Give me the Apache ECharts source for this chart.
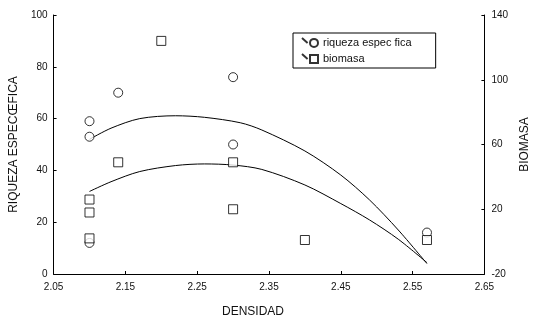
<!DOCTYPE html>
<html>
<head>
<meta charset="utf-8">
<script src="https://cdn.jsdelivr.net/npm/echarts@6/dist/echarts.min.js"></script>
<style>
    html, body { margin: 0; padding: 0; background: #fff; }
    #chartBox { width: 539px; height: 333px; }
</style>
</head>
<body>
<div id="chartBox"></div>
<script>
//riqueza especifica (eje izquierdo)
var riquezaX = [2.10, 2.10, 2.14, 2.30, 2.30, 2.10, 2.57];
var riquezaY = [59, 53, 70, 76, 50, 12, 16];
//biomasa (eje derecho)
var biomasaX = [2.20, 2.14, 2.10, 2.10, 2.10, 2.30, 2.30, 2.40, 2.57];
var biomasaY = [124, 49, 26, 18, 2, 49, 20, 1, 1];
//curvas ajustadas
var curvaRiqX = [2.10, 2.13, 2.17, 2.22, 2.26, 2.31, 2.34, 2.40, 2.45, 2.49, 2.53, 2.57];
var curvaRiqY = [52, 56.3, 60, 61.1, 60.5, 58.4, 55.6, 47.5, 38.2, 28.6, 17, 4];
var curvaBioX = [2.10, 2.13, 2.17, 2.22, 2.26, 2.30, 2.34, 2.40, 2.45, 2.49, 2.53, 2.57];
var curvaBioY = [31, 37, 43.3, 47, 48, 47.3, 44.6, 35, 23.5, 13.4, 1.5, -13];
//etiquetas del eje derecho
var yRightTicks = [-20, 20, 60, 100, 140];

var fontFam = 'Liberation Sans, Arial, sans-serif';

function toPairs(xs, ys) {
    var out = [];
    for (var i = 0; i < xs.length; i++) {
        out.push([xs[i], ys[i]]);
    }
    return out;
}

var myChart = echarts.init(document.getElementById('chartBox'));

var option = {
    backgroundColor: '#fff',
    animation: false,
    textStyle: { fontFamily: fontFam, color: '#111' },
    legend: {
        orient: 'vertical',
        left: 293,
        top: 33,
        padding: [4, 24, 4, 8],
        itemGap: 5,
        itemWidth: 16,
        itemHeight: 10,
        borderColor: '#000',
        borderWidth: 1,
        data: [
            { name: 'riqueza espec fica', icon: 'path://M0,1 L7,7 M15,2 A5,5 0 1 1 15,12 A5,5 0 1 1 15,2 Z' },
            { name: 'biomasa', icon: 'path://M0,1 L7,7 M10,2 L20,2 L20,12 L10,12 Z' }
        ],
        textStyle: { fontSize: 11, color: '#111', fontFamily: fontFam }
    },
    grid: {
        left: 46,
        right: 52,
        top: 15,
        bottom: 59
    },
    xAxis: {
        type: 'value',
        min: 2.05,
        max: 2.65,
        interval: 0.1,
        name: 'DENSIDAD',
        nameLocation: 'middle',
        nameGap: 32,
        nameTextStyle: { fontSize: 12, color: '#111', padding: [0, 32, 0, 0] },
        axisLine: { lineStyle: { color: '#000', width: 1 } },
        axisTick: { inside: true, length: 3, lineStyle: { color: '#000' } },
        axisLabel: {
            fontSize: 10,
            color: '#111',
            margin: 8,
            formatter: function (v) { return v.toFixed(2); }
        },
        splitLine: { show: false }
    },
    yAxis: [
        {
            type: 'value',
            min: 0,
            max: 100,
            interval: 20,
            name: 'RIQUEZA ESPECŒFICA',
            nameLocation: 'middle',
            nameGap: 30,
            nameTextStyle: { fontSize: 12, color: '#111' },
            axisLine: { show: true, lineStyle: { color: '#000', width: 1 } },
            axisTick: { show: true, inside: true, length: 3, lineStyle: { color: '#000' } },
            axisLabel: { fontSize: 10, color: '#111', margin: 6 },
            splitLine: { show: false }
        },
        {
            type: 'value',
            min: -20,
            max: 140,
            name: 'BIOMASA',
            nameLocation: 'middle',
            nameGap: 32,
            nameTextStyle: { fontSize: 12, color: '#111' },
            axisLine: { show: true, lineStyle: { color: '#000', width: 1 } },
            axisTick: { show: true, inside: true, length: 3, customValues: yRightTicks, lineStyle: { color: '#000' } },
            axisLabel: { fontSize: 10, color: '#111', margin: 7, customValues: yRightTicks },
            splitLine: { show: false }
        }
    ],
    series: [
        {
            name: 'riqueza espec fica',
            type: 'scatter',
            yAxisIndex: 0,
            symbol: 'circle',
            symbolSize: 9,
            z: 5,
            itemStyle: { color: '#fff', borderColor: '#000', borderWidth: 1 },
            data: toPairs(riquezaX, riquezaY)
        },
        {
            name: 'biomasa',
            type: 'scatter',
            yAxisIndex: 1,
            symbol: 'rect',
            symbolSize: 9,
            z: 5,
            itemStyle: { color: '#fff', borderColor: '#000', borderWidth: 1 },
            data: toPairs(biomasaX, biomasaY)
        },
        {
            name: 'ajuste riqueza',
            type: 'line',
            yAxisIndex: 0,
            smooth: 0.3,
            showSymbol: false,
            lineStyle: { color: '#000', width: 1 },
            data: toPairs(curvaRiqX, curvaRiqY)
        },
        {
            name: 'ajuste biomasa',
            type: 'line',
            yAxisIndex: 1,
            smooth: 0.3,
            showSymbol: false,
            lineStyle: { color: '#000', width: 1 },
            data: toPairs(curvaBioX, curvaBioY)
        }
    ]
};

myChart.setOption(option);
</script>
</body>
</html>
